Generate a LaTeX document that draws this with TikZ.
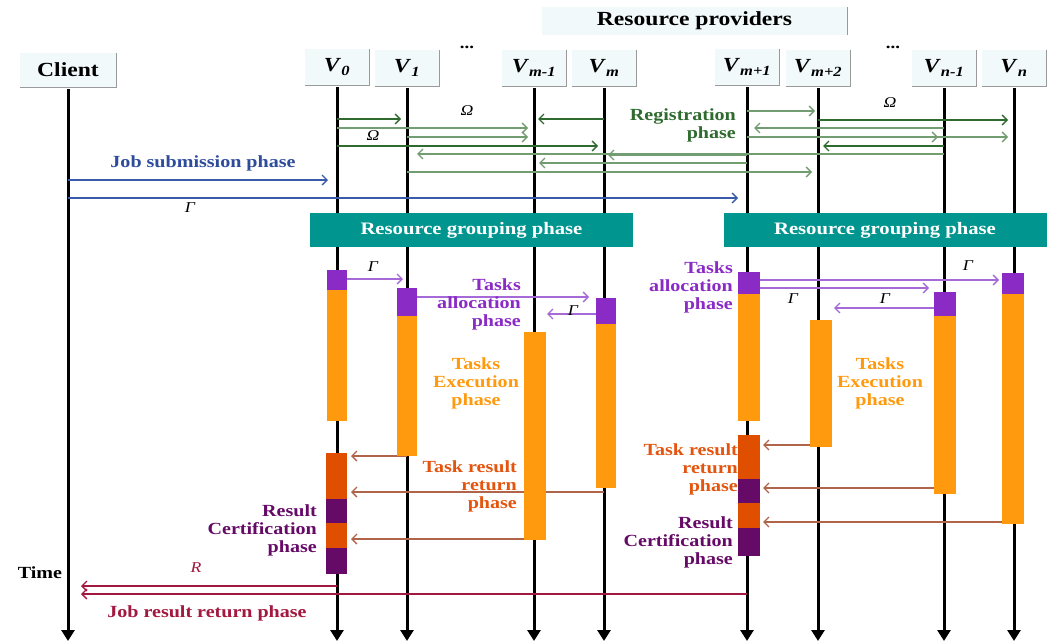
\documentclass[tikz,border=0pt]{standalone}
\usepackage{fontspec}
\setmainfont{Liberation Serif}[FakeStretch=1.18]
\usetikzlibrary{arrows.meta}
\definecolor{hdrfill}{HTML}{F2F9FB}
\definecolor{hdredge}{HTML}{9A9A9A}
\definecolor{gdark}{HTML}{2F6B2F}
\definecolor{glight}{HTML}{719D71}
\definecolor{jblue}{HTML}{3A5BAA}
\definecolor{jbluet}{HTML}{2E4C9C}
\definecolor{rgteal}{HTML}{00968F}
\definecolor{purp}{HTML}{8B2BC6}
\definecolor{purpline}{HTML}{A56AD8}
\definecolor{orng}{HTML}{FF9A0F}
\definecolor{rorng}{HTML}{E04F00}
\definecolor{dpurp}{HTML}{650A66}
\definecolor{brn}{HTML}{B0654A}
\definecolor{crim}{HTML}{A3183E}
\definecolor{trtext}{HTML}{E3550F}
\newcommand{\Vlab}[1]{\textbf{\textit{V}}\textsubscript{\textbf{\textit{#1}}}}
\begin{document}
\begin{tikzpicture}[x=1pt,y=-1pt,
  hdr/.style={fill=hdrfill, inner sep=0pt, minimum height=36pt, minimum width=64pt, font=\bfseries\fontsize{20}{22}\selectfont},
  life/.style={line width=3pt, -{Triangle[length=11pt,width=13pt]}},
  msg/.style={line width=1.3pt, -{Straight Barb[length=5pt,width=10pt,line width=1.3pt]}},
  reg/.style={msg, gdark, shorten >=6pt},
  regl/.style={msg, glight, shorten >=6pt},
  job/.style={msg, jblue, shorten >=9pt},
  alloc/.style={msg, purpline},
  tres/.style={msg, brn},
  jres/.style={msg, crim, shorten >=13pt},
  lbl/.style={font=\bfseries\fontsize{17}{18}\selectfont, inner sep=0pt},
  sym/.style={font=\itshape\fontsize{15}{16}\selectfont, inner sep=0pt},
  grp/.style={fill=rgteal, text=white, minimum width=323pt, minimum height=34pt, inner sep=0pt, font=\bfseries\fontsize{17.5}{18}\selectfont}
]
\useasboundingbox (0,0) rectangle (1050,643);

% header boxes
\node[hdr, minimum width=305pt, minimum height=28pt] (hR) at (694.5,21) {Resource providers};
\node[hdr, minimum width=96pt, minimum height=34pt] (hC) at (68,70) {Client};
\node[hdr] (h0) at (337,67) {\Vlab{0}};
\node[hdr] (h1) at (407,68) {\Vlab{1}};
\node[hdr] (hm1) at (534,68) {\Vlab{m-1}};
\node[hdr] (hm) at (604,68) {\Vlab{m}};
\node[hdr] (hp1) at (747,67) {\Vlab{m+1}};
\node[hdr] (hp2) at (818,68) {\Vlab{m+2}};
\node[hdr] (hn1) at (944,68) {\Vlab{n-1}};
\node[hdr] (hn) at (1014,68) {\Vlab{n}};
\foreach \n in {hC,h0,h1,hm1,hm,hp1,hp2,hn1,hn}
  \draw[hdredge, line width=1.1pt] (\n.north east) -- (\n.south east) -- (\n.south west);
\draw[hdredge, line width=1.1pt] (hR.north east) -- (hR.south east);
\node[font=\bfseries\fontsize{16}{18}\selectfont] (dots1) at (467,47) {...};
\node[font=\bfseries\fontsize{16}{18}\selectfont] (dots2) at (893,47) {...};

% lifelines
\foreach \n in {hC,h0,h1,hm1,hm,hp1,hp2,hn1,hn} {
  \coordinate (e\n) at (\n.south |- 0,641);
  \draw[life] (\n.south) ++(0,2) -- (e\n);
}

% registration phase
\draw[reg] (h0 |- 0,119) -- (h1 |- 0,119);
\draw[regl] (h0 |- 0,128) -- (hm1 |- 0,128);
\draw[regl] (h1 |- 0,137) -- (hm1 |- 0,137);
\draw[reg] (h0 |- 0,146) -- (hm |- 0,146);
\draw[regl, shorten >=10pt] (hn1 |- 0,154) -- (h1 |- 0,154);
\draw[regl, shorten >=4pt] (hp1 |- 0,155) -- (hm |- 0,155);
\draw[reg, shorten >=4pt] (hm |- 0,119) -- (hm1 |- 0,119);
\draw[regl, shorten >=5pt] (hp1 |- 0,163) -- (hm1 |- 0,163);
\draw[regl] (h1 |- 0,172) -- (hp2 |- 0,172);
\draw[regl, shorten >=3pt] (hp1 |- 0,111) -- (hp2 |- 0,111);
\draw[reg] (hp2 |- 0,120) -- (hn |- 0,120);
\draw[regl, shorten >=7pt] (hn1 |- 0,128) -- (hp1 |- 0,128);
\draw[regl] (hp1 |- 0,137) -- (hn1 |- 0,137);
\draw[regl] (hp1 |- 0,137) -- (hn |- 0,137);
\draw[reg, shorten >=5pt] (hn1 |- 0,146) -- (hp2 |- 0,146);
\node[sym] (om1) at (467,111) {Ω};
\node[sym] (om2) at (373,136) {Ω};
\node[sym] (om3) at (890,103) {Ω};
\node[lbl, text=gdark, align=right, anchor=east] (regt) at (736,125.5) {Registration\\phase};

% job submission
\draw[job] (hC |- 0,180) -- (h0 |- 0,180);
\draw[job] (hC |- 0,198) -- (hp1 |- 0,198);
\node[lbl, text=jbluet] (jobt) at (203,163) {Job submission phase};
\node[sym] (g0) at (190,208) {Γ};

% resource grouping
\node[grp] (grp1) at (471.5,230) {Resource grouping phase};
\node[grp] (grp2) at (885,230) {Resource grouping phase};

% tasks allocation arrows
\draw[alloc, shorten >=4pt] (h0 |- 0,279) -- (h1 |- 0,279);
\draw[alloc, shorten >=15pt] (h1 |- 0,297) -- (hm |- 0,297);
\draw[alloc, shorten >=13pt] (hm |- 0,314) -- (hm1 |- 0,314);
\draw[alloc, shorten >=15pt] (hp1 |- 0,280) -- (hn |- 0,280);
\draw[alloc, shorten >=15pt] (hp1 |- 0,288) -- (hn1 |- 0,288);
\draw[alloc, shorten >=16pt] (hn1 |- 0,308) -- (hp2 |- 0,308);
\node[sym] (g1) at (373,267) {Γ};
\node[sym] (g2) at (573,311) {Γ};
\node[sym] (g3) at (968,266) {Γ};
\node[sym] (g4) at (793,299) {Γ};
\node[sym] (g5) at (885,299) {Γ};

% task result return arrows
\draw[tres, shorten >=14pt] (h1 |- 0,456) -- (h0 |- 0,456);
\draw[tres, shorten >=14pt] (hm |- 0,492) -- (h0 |- 0,492);
\draw[tres, shorten >=14pt] (hm1 |- 0,539) -- (h0 |- 0,539);
\draw[tres, shorten >=16pt] (hp2 |- 0,445) -- (hp1 |- 0,445);
\draw[tres, shorten >=16pt] (hn1 |- 0,488) -- (hp1 |- 0,488);
\draw[tres, shorten >=16pt] (hn |- 0,522) -- (hp1 |- 0,522);

% job result return
\draw[jres] (h0 |- 0,586) -- (hC |- 0,586);
\draw[jres] (hp1 |- 0,594) -- (hC |- 0,594);

% activation blocks
\fill[purp] (327,270) rectangle (347,290);
\fill[orng] (327,290) rectangle (347,421);
\fill[rorng] (326,453) rectangle (347,499);
\fill[dpurp] (326,499) rectangle (347,523);
\fill[rorng] (326,523) rectangle (347,548);
\fill[dpurp] (326,548) rectangle (347,574);
\fill[purp] (397,288) rectangle (417,316);
\fill[orng] (397,316) rectangle (417,456);
\fill[orng] (524,332) rectangle (546,540);
\fill[purp] (596,298) rectangle (616,324);
\fill[orng] (596,324) rectangle (616,488);
\fill[purp] (738,272) rectangle (760,294);
\fill[orng] (738,294) rectangle (760,421);
\fill[rorng] (738,435) rectangle (760,479);
\fill[dpurp] (738,479) rectangle (760,503);
\fill[rorng] (738,503) rectangle (760,528);
\fill[dpurp] (738,528) rectangle (760,556);
\fill[orng] (810,320) rectangle (832,447);
\fill[purp] (934,292) rectangle (956,316);
\fill[orng] (934,316) rectangle (956,494);
\fill[purp] (1002,273) rectangle (1024,294);
\fill[orng] (1002,294) rectangle (1024,524);

% phase labels
\node[lbl, text=purp, align=right, anchor=east] (ta1) at (521,304) {Tasks\\allocation\\phase};
\node[lbl, text=purp, align=right, anchor=east] (ta2) at (733,287) {Tasks\\allocation\\phase};
\node[lbl, text=orng, align=center] (te1) at (476,383) {Tasks\\Execution\\phase};
\node[lbl, text=orng, align=center] (te2) at (880,383) {Tasks\\Execution\\phase};
\node[lbl, text=trtext, align=right, anchor=east] (tr1) at (517,486) {Task result\\return\\phase};
\node[lbl, text=trtext, align=right, anchor=east] (tr2) at (738,469) {Task result\\return\\phase};
\node[lbl, text=dpurp, align=right, anchor=east] (rc1) at (317,530) {Result\\Certification\\phase};
\node[lbl, text=dpurp, align=right, anchor=east] (rc2) at (733,542) {Result\\Certification\\phase};
\node[lbl] (time) at (40,573) {Time};
\node[sym, text=crim] (rlab) at (196,568) {R};
\node[lbl, text=crim] (jrt) at (207,613) {Job result return phase};
\end{tikzpicture}
\end{document}
